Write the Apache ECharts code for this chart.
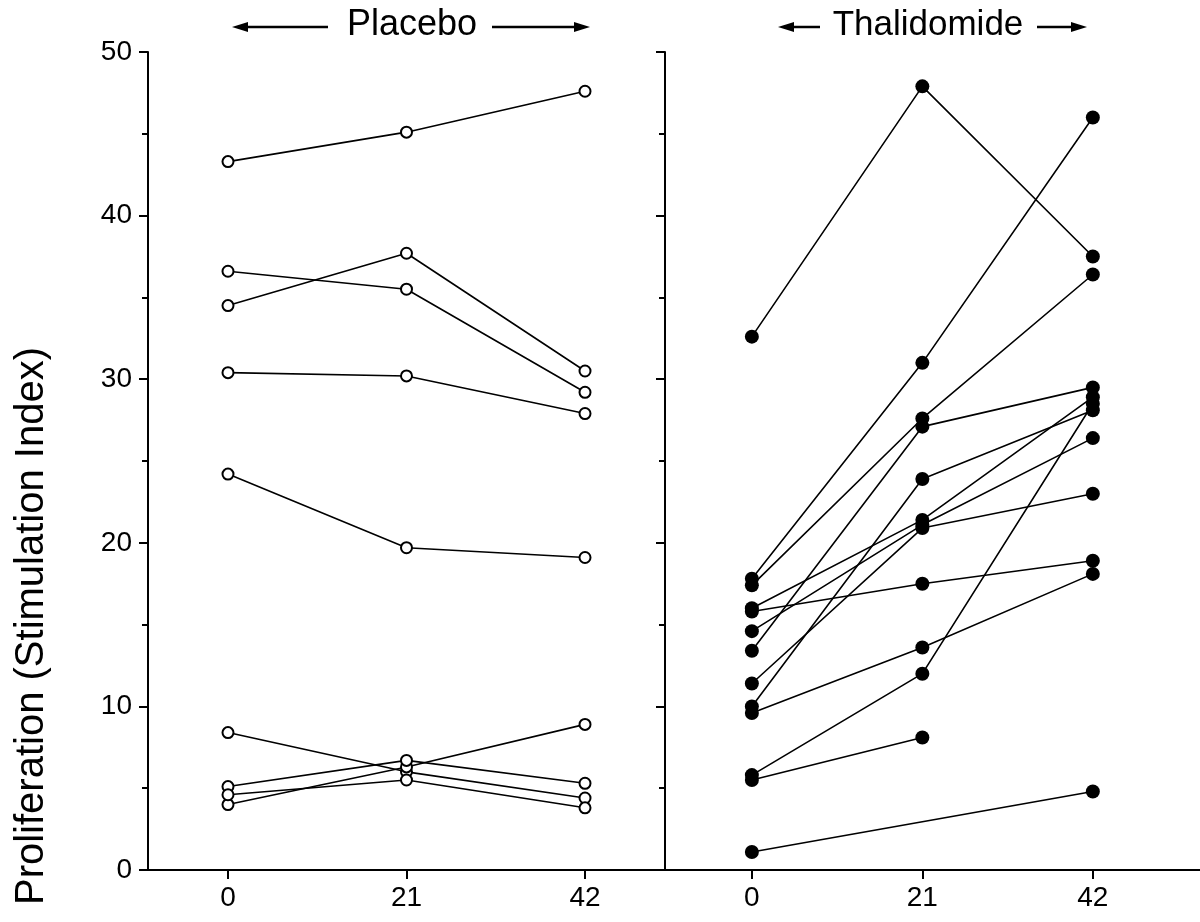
<!DOCTYPE html>
<html>
<head>
<meta charset="utf-8">
<script src="https://cdn.jsdelivr.net/npm/echarts@6.0.0/dist/echarts.min.js"></script>
<style>
html,body{margin:0;padding:0;background:#fff;}
#chart{width:1200px;height:922px;}
</style>
</head>
<body>
<div id="chart"></div>
<script>
// ---- data ----
const days = [0, 21, 42];
const yTicks = [0, 10, 20, 30, 40, 50];
const groupNames = ['Placebo', 'Thalidomide'];
const yAxisTitle = 'Proliferation (Stimulation Index)';

// Placebo: one entry per subject
const placeboDay0  = [43.3, 36.6, 34.5, 30.4, 24.2, 8.4, 4.0, 5.1, 4.6];
const placeboDay21 = [45.1, 35.5, 37.7, 30.2, 19.7, 6.0, 6.3, 6.7, 5.5];
const placeboDay42 = [47.6, 29.2, 30.5, 27.9, 19.1, 4.4, 8.9, 5.3, 3.8];

// Thalidomide: one entry per subject (null = not measured)
const thalDay0  = [32.6, 17.8, 17.4, 13.4, 15.8, 16.0, 14.6, 11.4, 10.0, 9.6, 5.8, 5.5, 1.1];
const thalDay21 = [47.9, 31.0, 27.6, 27.1, 17.5, 21.4, 21.1, 20.9, 23.9, 13.6, 12.0, 8.1, null];
const thalDay42 = [37.5, 46.0, 36.4, 29.5, 18.9, 28.9, 26.4, 23.0, 28.1, 18.1, 28.5, null, 4.8];

// ---- chart ----
const FONT = "'Liberation Sans', Arial, Helvetica, sans-serif";
const chart = echarts.init(document.getElementById('chart'), null, {renderer: 'canvas'});

function subjectSeries(d0, d21, d42, axisIndex, open) {
  return d0.map((v, i) => ({
    type: 'line',
    xAxisIndex: axisIndex,
    yAxisIndex: axisIndex,
    data: [[days[0], d0[i]], [days[1], d21[i]], [days[2], d42[i]]].filter(p => p[1] !== null),
    symbol: 'circle',
    symbolSize: open ? 11 : 14,
    showAllSymbol: true,
    connectNulls: true,
    silent: true,
    lineStyle: {color: '#000', width: 1.6},
    itemStyle: open
      ? {color: '#fff', borderColor: '#000', borderWidth: 2}
      : {color: '#000', borderColor: '#000', borderWidth: 0},
    emphasis: {disabled: true}
  }));
}

const axisLineStyle = {color: '#000', width: 2};

function xAxisDef(gridIndex, min, max) {
  return {
    type: 'value', gridIndex, min, max,
    axisLine: {show: true, onZero: false, lineStyle: axisLineStyle},
    axisTick: {show: true, customValues: days, length: 9, lineStyle: axisLineStyle},
    axisLabel: {show: true, customValues: days, color: '#000', fontSize: 28, fontFamily: FONT, margin: 14},
    splitLine: {show: false}
  };
}
function yAxisDef(gridIndex, showLabels) {
  return {
    type: 'value', gridIndex, min: yTicks[0], max: yTicks[yTicks.length - 1], interval: 10,
    axisLine: {show: true, onZero: false, lineStyle: axisLineStyle},
    axisTick: {show: true, length: 9, lineStyle: axisLineStyle},
    minorTick: {show: true, splitNumber: 2, length: 6, lineStyle: axisLineStyle},
    axisLabel: {show: showLabels, color: '#000', fontSize: 28, fontFamily: FONT, margin: 16},
    splitLine: {show: false}
  };
}

function arrow(x1, x2, y) {
  const dir = x2 > x1 ? 1 : -1;
  return [
    {type: 'line', shape: {x1: x1, y1: y, x2: x2 - dir * 10, y2: y}, style: {stroke: '#000', lineWidth: 2.5}},
    {type: 'polygon', shape: {points: [[x2, y], [x2 - dir * 16, y - 5], [x2 - dir * 16, y + 5]]}, style: {fill: '#000'}}
  ];
}

const option = {
  animation: false,
  backgroundColor: '#fff',
  grid: [
    {left: 148, top: 52, width: 513, height: 818},
    {left: 665, top: 52, width: 535, height: 818}
  ],
  xAxis: [xAxisDef(0, -9.41, 50.94), xAxisDef(1, -10.7, 55.2)],
  yAxis: [yAxisDef(0, true), yAxisDef(1, false)],
  series: [
    ...subjectSeries(placeboDay0, placeboDay21, placeboDay42, 0, true),
    ...subjectSeries(thalDay0, thalDay21, thalDay42, 1, false)
  ],
  graphic: [
    {type: 'text', x: 412, y: 25, style: {text: groupNames[0], x: 0, y: 0, align: 'center', verticalAlign: 'middle', font: '36px ' + FONT, fill: '#000'}},
    {type: 'text', x: 928, y: 25, style: {text: groupNames[1], x: 0, y: 0, align: 'center', verticalAlign: 'middle', font: '35px ' + FONT, fill: '#000'}},
    ...arrow(328, 232, 27),
    ...arrow(492, 590, 27),
    ...arrow(820, 778, 27),
    ...arrow(1037, 1087, 27),
    {type: 'text', x: 32, y: 626, rotation: Math.PI / 2, style: {text: yAxisTitle, x: 0, y: 0, align: 'center', verticalAlign: 'middle', font: '40px ' + FONT, fill: '#000'}}
  ]
};
chart.setOption(option);
</script>
</body>
</html>
